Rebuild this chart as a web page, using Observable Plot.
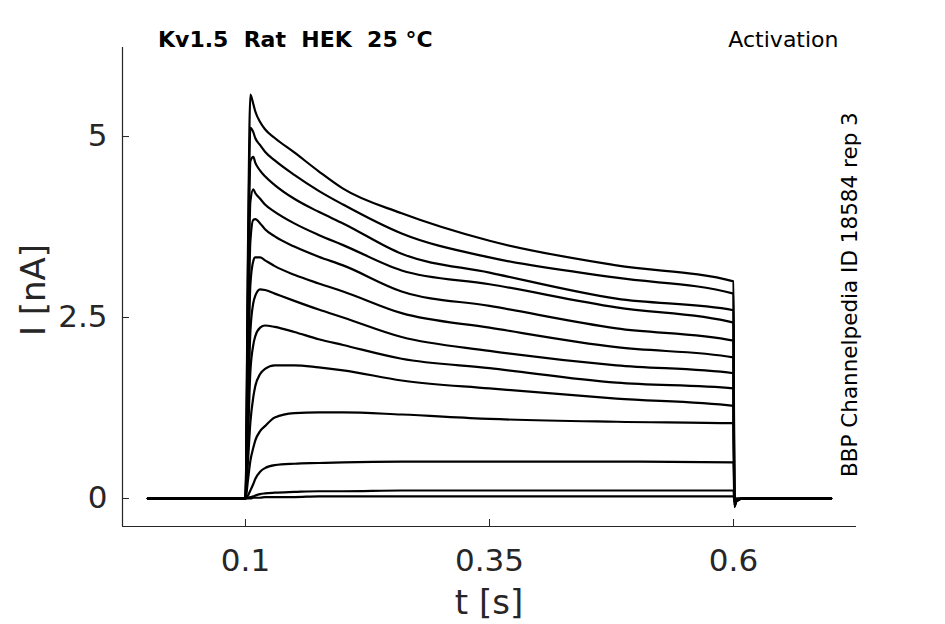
<!DOCTYPE html>
<html>
<head>
<meta charset="utf-8">
<script src="https://cdn.jsdelivr.net/npm/d3@7"></script>
<script src="https://cdn.jsdelivr.net/npm/@observablehq/plot@0.6"></script>
<style>
  html, body { margin: 0; padding: 0; background: #fff; }
  svg { display: block; }
</style>
</head>
<body>
<div id="chart"></div>
<script>
// Sample times (s) shared by every sweep
const T = [0, 0.1, 0.1025, 0.105, 0.108, 0.11, 0.115, 0.12, 0.13, 0.15, 0.175, 0.2, 0.26, 0.35, 0.48, 0.6, 0.6008, 0.603, 0.61, 0.7];

// Current (nA) of each activation sweep at the times above
const sweep1  = [0, 0, 3.4, 5.58, 5.45, 5.35, 5.20, 5.10, 4.98, 4.78, 4.52, 4.28, 3.94, 3.56, 3.22, 3.00, -0.12, -0.04, 0, 0];
const sweep2  = [0, 0, 3.1, 5.12, 5.06, 4.98, 4.88, 4.79, 4.67, 4.47, 4.25, 4.06, 3.66, 3.33, 3.05, 2.83, -0.11, -0.04, 0, 0];
const sweep3  = [0, 0, 2.7, 4.66, 4.72, 4.64, 4.53, 4.45, 4.33, 4.14, 3.96, 3.80, 3.38, 3.12, 2.76, 2.60, -0.10, -0.03, 0, 0];
const sweep4  = [0, 0, 2.3, 4.10, 4.27, 4.22, 4.14, 4.06, 3.96, 3.80, 3.64, 3.50, 3.15, 2.96, 2.64, 2.43, -0.10, -0.03, 0, 0];
const sweep5  = [0, 0, 1.9, 3.55, 3.85, 3.86, 3.80, 3.72, 3.62, 3.48, 3.34, 3.22, 2.86, 2.66, 2.35, 2.18, -0.09, -0.03, 0, 0];
const sweep6  = [0, 0, 1.5, 2.95, 3.28, 3.33, 3.33, 3.29, 3.21, 3.09, 2.97, 2.86, 2.56, 2.36, 2.09, 1.95, -0.08, -0.03, 0, 0];
const sweep7  = [0, 0, 1.1, 2.30, 2.70, 2.80, 2.89, 2.88, 2.83, 2.73, 2.61, 2.50, 2.23, 2.04, 1.84, 1.73, -0.07, -0.02, 0, 0];
const sweep8  = [0, 0, 0.8, 1.75, 2.12, 2.24, 2.36, 2.39, 2.37, 2.30, 2.20, 2.12, 1.93, 1.80, 1.60, 1.52, -0.06, -0.02, 0, 0];
const sweep9  = [0, 0, 0.5, 1.05, 1.40, 1.55, 1.72, 1.79, 1.84, 1.84, 1.81, 1.77, 1.63, 1.52, 1.38, 1.28, -0.05, -0.02, 0, 0];
const sweep10 = [0, 0, 0.25, 0.52, 0.70, 0.80, 0.93, 1.00, 1.12, 1.18, 1.19, 1.19, 1.16, 1.10, 1.06, 1.04, -0.04, -0.01, 0, 0];
const sweep11 = [0, 0, 0.04, 0.11, 0.20, 0.27, 0.37, 0.42, 0.46, 0.48, 0.49, 0.50, 0.51, 0.51, 0.51, 0.50, -0.03, -0.01, 0, 0];
const sweep12 = [0, 0, 0.01, 0.02, 0.03, 0.04, 0.06, 0.07, 0.08, 0.09, 0.10, 0.10, 0.11, 0.11, 0.11, 0.11, -0.02, 0, 0, 0];
const sweep13 = [0, 0, 0, 0, 0.01, 0.01, 0.01, 0.02, 0.02, 0.02, 0.03, 0.03, 0.03, 0.03, 0.03, 0.03, -0.01, 0, 0, 0];
const SWEEPS = [sweep1, sweep2, sweep3, sweep4, sweep5, sweep6, sweep7, sweep8, sweep9, sweep10, sweep11, sweep12, sweep13];

// Axis ticks and domains
const X_TICKS = [0.1, 0.35, 0.6];
const Y_TICKS = [0, 2.5, 5];
const X_DOMAIN = [-0.026, 0.726];
const Y_DOMAIN = [-0.387, 6.23];

// Texts
const TITLE = "Kv1.5  Rat  HEK  25 °C";
const PROTOCOL = "Activation";
const SOURCE = "BBP Channelpedia ID 18584 rep 3";
const X_LABEL = "t [s]";
const Y_LABEL = "I [nA]";

const rows = SWEEPS.flatMap((vals, k) => T.map((t, i) => ({t, I: vals[i], sweep: k})));

const axisColor = "#262626";
const font = "DejaVu Sans, sans-serif";

const chart = Plot.plot({
  width: 945,
  height: 624,
  marginLeft: 122,
  marginRight: 89,
  marginTop: 47,
  marginBottom: 98,
  style: {fontFamily: font, background: "#fff", color: axisColor},
  x: {domain: X_DOMAIN},
  y: {domain: Y_DOMAIN},
  marks: [
    Plot.ruleX([X_DOMAIN[0]], {stroke: axisColor, strokeWidth: 1.2}),
    Plot.ruleY([Y_DOMAIN[0]], {stroke: axisColor, strokeWidth: 1.2}),
    Plot.axisX({ticks: X_TICKS, tickFormat: d => String(d), tickSize: -7, tickPadding: 29, fontSize: 31, stroke: axisColor, fill: axisColor, label: null}),
    Plot.axisY({ticks: Y_TICKS, tickFormat: d => String(d), tickSize: -7, tickPadding: 22, fontSize: 31, stroke: axisColor, fill: axisColor, label: null}),
    Plot.line(rows, {x: "t", y: "I", z: "sweep", stroke: "black", strokeWidth: 2.2, curve: "monotone-x"})
  ]
});

const svg = d3.select(chart);
svg.append("text")
  .attr("x", 158).attr("y", 47).attr("text-anchor", "start")
  .attr("font-family", font).attr("font-size", 22).attr("font-weight", "bold")
  .attr("fill", "black").style("white-space", "pre").attr("xml:space", "preserve")
  .text(TITLE);
svg.append("text")
  .attr("x", 838.5).attr("y", 47).attr("text-anchor", "end")
  .attr("font-family", font).attr("font-size", 22).attr("fill", "black")
  .text(PROTOCOL);
svg.append("text")
  .attr("transform", "translate(857,477) rotate(-90)").attr("text-anchor", "start")
  .attr("font-family", font).attr("font-size", 21.5).attr("fill", "black")
  .text(SOURCE);
svg.append("text")
  .attr("x", 489).attr("y", 614).attr("text-anchor", "middle")
  .attr("font-family", font).attr("font-size", 34).attr("fill", axisColor)
  .text(X_LABEL);
svg.append("text")
  .attr("transform", "translate(45,290) rotate(-90)").attr("text-anchor", "middle")
  .attr("font-family", font).attr("font-size", 34).attr("fill", axisColor)
  .text(Y_LABEL);

document.getElementById("chart").appendChild(chart);
</script>
</body>
</html>
